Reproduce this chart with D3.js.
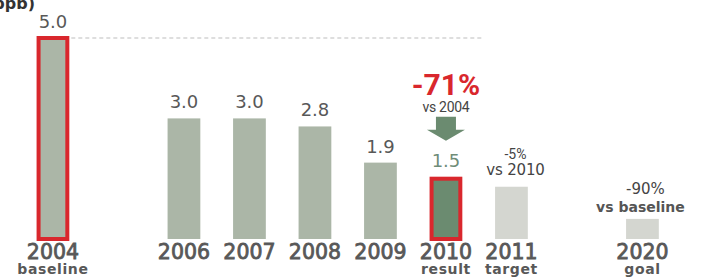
<!DOCTYPE html>
<html>
<head>
<meta charset="utf-8">
<script src="https://cdn.jsdelivr.net/npm/d3@7"></script>
<style>
html,body{margin:0;padding:0;background:#fff;}
svg{display:block;}
</style>
</head>
<body>
<svg id="chart" width="702" height="278"></svg>
<script>
// ---- data ----
const categories = ["2004", "2006", "2007", "2008", "2009", "2010", "2011", "2020"];
const values = [5.0, 3.0, 3.0, 2.8, 1.9, 1.5, 1.3, 0.5];
const valueLabels = ["5.0", "3.0", "3.0", "2.8", "1.9", "1.5", "", ""];
const subLabels = ["baseline", "", "", "", "", "result", "target", "goal"];
const kinds = ["baseline", "actual", "actual", "actual", "actual", "result", "target", "goal"];
const changeLabels = ["", "", "", "", "", "-71%", "-5%", "-90%"];
const changeRefs = ["", "", "", "", "", "vs 2004", "vs 2010", "vs baseline"];
const slots = ["2004", "2005", "2006", "2007", "2008", "2009", "2010", "2011", "gap", "2020"];
const unitLabel = "(ppb)";

const svg = d3.select("#chart");
const font = "'DejaVu Sans', sans-serif";
const narrow = "'Liberation Sans Narrow', 'Roboto', sans-serif";
const grey = "#585858";
const red = "#d9272d";

const x = d3.scaleBand().domain(slots).range([20.2, 675.2]).paddingInner(0.5).paddingOuter(0.25);
const y = d3.scaleLinear().domain([0, 5]).range([239, 38]);

const fillOf = k => k === "result" ? "#6b8b70" : (k === "target" || k === "goal") ? "#d4d6d0" : "#abb6a7";

const data = categories.map((c, i) => ({
  c, v: values[i], label: valueLabels[i], sub: subLabels[i], kind: kinds[i],
  chg: changeLabels[i], ref: changeRefs[i]
}));

// unit label (cut off at left/top as in the source)
svg.append("text").attr("x", -14).attr("y", 9)
  .attr("font-family", font).attr("font-weight", "bold").attr("font-size", 16)
  .attr("fill", "#333").text(unitLabel);

// dashed reference line at baseline value
svg.append("line")
  .attr("x1", x("2004") + x.bandwidth() + 2).attr("x2", 482)
  .attr("y1", y(values[0])).attr("y2", y(values[0]))
  .attr("stroke", "#bdbdbd").attr("stroke-width", 1).attr("stroke-dasharray", "4,3");

// bars
svg.selectAll("rect.bar").data(data).join("rect")
  .attr("class", "bar")
  .attr("x", d => x(d.c) + (d.kind === "baseline" || d.kind === "result" ? 2 : 0))
  .attr("width", d => x.bandwidth() - (d.kind === "baseline" || d.kind === "result" ? 4 : 0))
  .attr("y", d => y(d.v))
  .attr("height", d => y(0) - y(d.v))
  .attr("fill", d => fillOf(d.kind))
  .attr("stroke", d => (d.kind === "baseline" || d.kind === "result") ? red : "none")
  .attr("stroke-width", 4);

// value labels
svg.selectAll("text.val").data(data.filter(d => d.label)).join("text")
  .attr("class", "val")
  .attr("x", d => x(d.c) + x.bandwidth() / 2)
  .attr("y", d => y(d.v) - (d.kind === "result" ? 12 : 10))
  .attr("text-anchor", "middle")
  .attr("font-family", font).attr("font-size", 18)
  .attr("fill", d => d.kind === "result" ? "#6f8c78" : grey)
  .text(d => d.label);

// year labels
svg.selectAll("text.year").data(data).join("text")
  .attr("class", "year")
  .attr("x", d => x(d.c) + x.bandwidth() / 2)
  .attr("y", 258.5)
  .attr("text-anchor", "middle")
  .attr("font-family", font).attr("font-size", 20.5)
  .attr("fill", grey).attr("stroke", grey).attr("stroke-width", 0.8)
  .text(d => d.c);

// sub labels
svg.selectAll("text.sub").data(data.filter(d => d.sub)).join("text")
  .attr("class", "sub")
  .attr("x", d => x(d.c) + x.bandwidth() / 2)
  .attr("y", 274)
  .attr("text-anchor", "middle")
  .attr("font-family", font).attr("font-weight", "bold").attr("font-size", 14)
  .attr("letter-spacing", 0.6)
  .attr("fill", grey)
  .text(d => d.sub);

// 2010 annotation: -71% with arrow
const r = data.find(d => d.kind === "result");
const rc = x(r.c) + x.bandwidth() / 2;
const rTop = y(r.v);
svg.append("text").attr("x", rc).attr("y", rTop - 84)
  .attr("text-anchor", "middle").attr("font-family", narrow).attr("font-weight", "bold")
  .attr("font-size", 30).attr("fill", red).text(r.chg);
svg.append("text").attr("x", rc).attr("y", rTop - 67)
  .attr("text-anchor", "middle").attr("font-family", narrow)
  .attr("font-size", 14).attr("fill", "#444").attr("letter-spacing", -0.3).text(r.ref);
const aTop = rTop - 62, aMid = rTop - 49, aBot = rTop - 38;
svg.append("path")
  .attr("d", `M${rc - 10},${aTop} L${rc + 10},${aTop} L${rc + 10},${aMid} L${rc + 19},${aMid} L${rc},${aBot} L${rc - 19},${aMid} L${rc - 10},${aMid} Z`)
  .attr("fill", "#6b8b70");

// 2011 annotation
const t = data.find(d => d.kind === "target");
const tc = x(t.c) + x.bandwidth() / 2 + 4;
svg.append("text").attr("x", tc).attr("y", y(t.v) - 28)
  .attr("text-anchor", "middle").attr("font-family", narrow)
  .attr("font-size", 14).attr("fill", "#444").text(t.chg);
svg.append("text").attr("x", tc).attr("y", y(t.v) - 12)
  .attr("text-anchor", "middle").attr("font-family", font)
  .attr("font-size", 15).attr("fill", "#444").attr("letter-spacing", -0.2).text(t.ref);

// 2020 annotation
const g = data.find(d => d.kind === "goal");
const gc = x(g.c) + x.bandwidth() / 2;
svg.append("text").attr("x", gc + 3).attr("y", y(g.v) - 25)
  .attr("text-anchor", "middle").attr("font-family", font)
  .attr("font-size", 15).attr("fill", "#444").text(g.chg);
svg.append("text").attr("x", gc - 2).attr("y", y(g.v) - 7)
  .attr("text-anchor", "middle").attr("font-family", font).attr("font-weight", "bold")
  .attr("font-size", 14).attr("fill", "#555").text(g.ref);
</script>
</body>
</html>
